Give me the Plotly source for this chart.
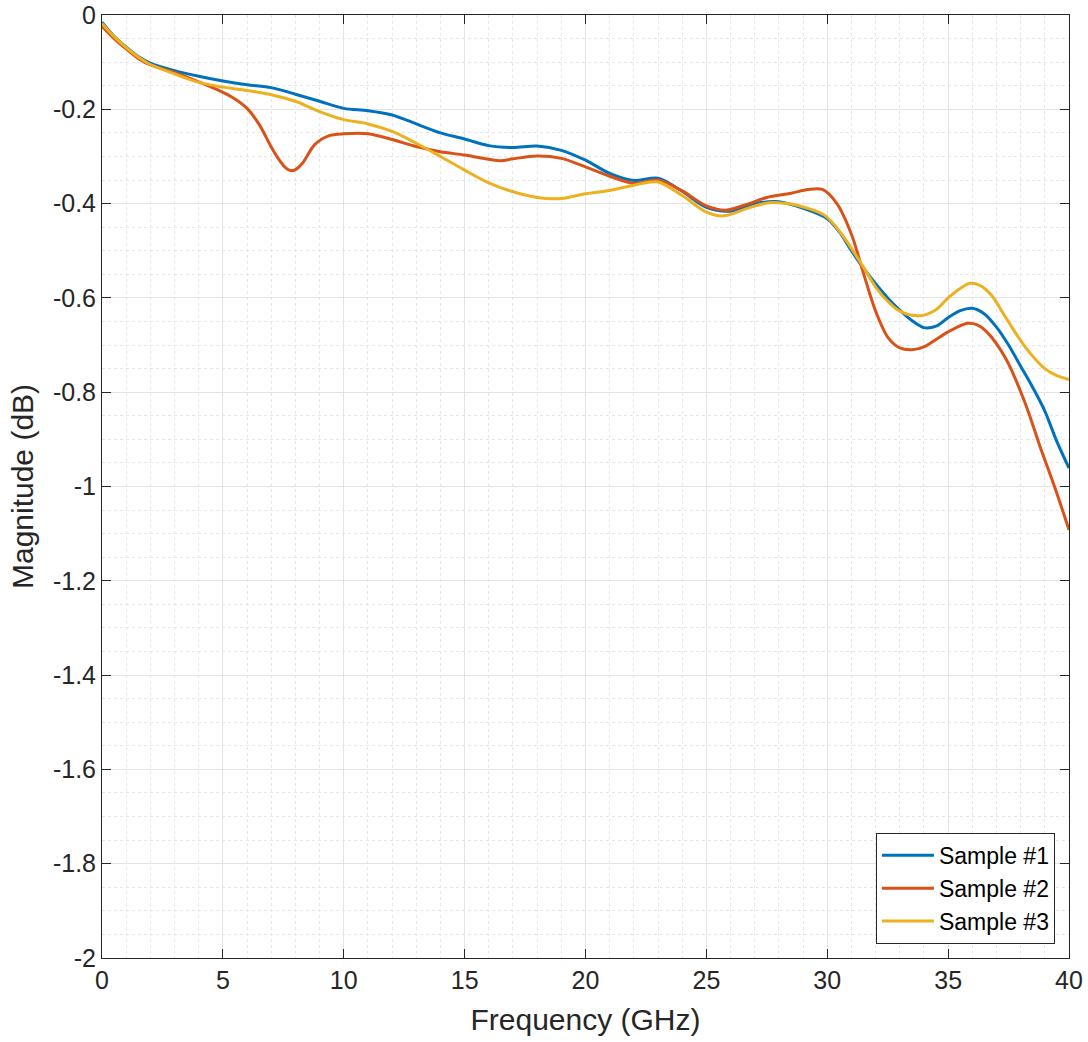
import plotly.graph_objects as go

# Sample #1
f1 = [0, 0.5, 1, 1.5, 2, 3, 4, 5, 6, 7, 8, 9, 10, 11, 12, 13, 14, 15, 16, 17, 18, 19, 20,
      21, 22, 23, 24, 25, 26, 27, 28, 29, 30, 30.5, 31, 31.5, 32, 32.5, 33, 33.5, 34, 34.5,
      35, 35.5, 36, 36.5, 37, 37.5, 38, 38.5, 39, 39.5, 40]
m1 = [-0.015, -0.045, -0.068, -0.088, -0.102, -0.118, -0.130, -0.140, -0.148, -0.154, -0.168,
      -0.183, -0.198, -0.203, -0.212, -0.231, -0.250, -0.263, -0.277, -0.281, -0.278, -0.287,
      -0.308, -0.336, -0.351, -0.346, -0.374, -0.408, -0.416, -0.400, -0.396, -0.410, -0.432,
      -0.460, -0.500, -0.537, -0.570, -0.600, -0.626, -0.648, -0.663, -0.660, -0.642, -0.627,
      -0.622, -0.634, -0.662, -0.700, -0.745, -0.790, -0.840, -0.905, -0.961]

# Sample #2
f2 = [0, 0.5, 1, 1.5, 2, 3, 4, 5, 5.5, 6, 6.5, 7, 7.3, 7.6, 7.8, 8.0, 8.3, 8.8, 9.4, 10, 11,
      12, 13, 14, 15, 16, 16.5, 17, 18, 19, 20, 21, 22, 23, 24, 25, 25.8, 26.7, 27.5, 28.5,
      29.2, 29.8, 30.4, 31, 31.5, 32, 32.5, 33, 33.5, 34, 35, 35.8, 36.2, 36.6, 37.4, 38.2,
      38.8, 39.4, 40]
m2 = [-0.024, -0.050, -0.072, -0.092, -0.106, -0.122, -0.142, -0.164, -0.178, -0.198, -0.232,
      -0.280, -0.305, -0.324, -0.330, -0.328, -0.314, -0.275, -0.256, -0.252, -0.252, -0.264,
      -0.279, -0.290, -0.297, -0.306, -0.309, -0.305, -0.299, -0.304, -0.322, -0.342, -0.357,
      -0.350, -0.373, -0.405, -0.414, -0.401, -0.387, -0.378, -0.370, -0.370, -0.400, -0.465,
      -0.548, -0.628, -0.683, -0.706, -0.710, -0.704, -0.672, -0.654, -0.657, -0.672, -0.730,
      -0.825, -0.915, -1.000, -1.092]

# Sample #3
f3 = [0, 0.5, 1, 1.5, 2, 3, 4, 5, 6, 7, 8, 9, 10, 11, 12, 13, 14, 15, 16, 17, 18, 19, 20, 21,
      22, 23, 24, 25, 25.7, 26.7, 27.6, 28.5, 29.2, 29.9, 30.5, 31, 31.5, 32, 32.5, 33, 33.8,
      34.5, 35, 35.5, 35.9, 36.3, 36.8, 37.4, 38.2, 39, 39.5, 40]
m3 = [-0.018, -0.046, -0.069, -0.089, -0.105, -0.125, -0.143, -0.153, -0.160, -0.169, -0.183,
      -0.205, -0.222, -0.231, -0.247, -0.272, -0.300, -0.329, -0.356, -0.375, -0.387, -0.389,
      -0.379, -0.372, -0.361, -0.354, -0.383, -0.418, -0.426, -0.410, -0.398, -0.401, -0.410,
      -0.425, -0.458, -0.495, -0.535, -0.577, -0.607, -0.628, -0.638, -0.625, -0.600, -0.580,
      -0.569, -0.573, -0.595, -0.643, -0.705, -0.750, -0.765, -0.773]

names = ["Sample #1", "Sample #2", "Sample #3"]
colors = ["#0072BD", "#D95319", "#EDB120"]

x_ticks = [0, 5, 10, 15, 20, 25, 30, 35, 40]
y_ticks = [0, -0.2, -0.4, -0.6, -0.8, -1, -1.2, -1.4, -1.6, -1.8, -2]
y_ticktext = ["0", "-0.2", "-0.4", "-0.6", "-0.8", "-1", "-1.2", "-1.4", "-1.6", "-1.8", "-2"]

fig = go.Figure()
for fx, my, nm, c in zip([f1, f2, f3], [m1, m2, m3], names, colors):
    fig.add_trace(go.Scatter(x=fx, y=my, mode="lines", name=nm,
                             line=dict(color=c, width=3, shape="spline", smoothing=0.9)))

axis_common = dict(
    showline=True, linecolor="#262626", linewidth=1, mirror="ticks",
    ticks="inside", ticklen=9, tickcolor="#262626", tickwidth=1,
    showgrid=True, gridcolor="#e3e3e3", gridwidth=1, zeroline=False,
    automargin=False,
    tickfont=dict(family="Liberation Sans", size=25, color="#262626"),
)

fig.update_xaxes(range=[0, 40], tickvals=x_ticks,
                 title=dict(text="Frequency (GHz)", font=dict(family="Liberation Sans", size=30, color="#262626"), standoff=15),
                 minor=dict(dtick=1, showgrid=True, gridcolor="#e6e6e6", griddash="dot", ticks=""),
                 **axis_common)
fig.update_yaxes(range=[-2, 0], tickvals=y_ticks, ticktext=y_ticktext,
                 title=dict(text="Magnitude (dB)", font=dict(family="Liberation Sans", size=30, color="#262626"), standoff=10),
                 minor=dict(dtick=0.05, tick0=0, showgrid=True, gridcolor="#e6e6e6", griddash="dot", ticks=""),
                 **axis_common)

fig.update_layout(
    width=1088, height=1042,
    margin=dict(l=102, r=19, t=15, b=84),
    plot_bgcolor="white", paper_bgcolor="white",
    legend=dict(x=0.9855, y=0.015, xanchor="right", yanchor="bottom",
                bgcolor="white", bordercolor="#262626", borderwidth=1,
                font=dict(family="Liberation Sans", size=23, color="#000000"),
                tracegroupgap=0, itemwidth=52),
    showlegend=True,
)

fig.write_html("out.html", config={"displayModeBar": False},
               post_script="document.body.style.margin='0';")
